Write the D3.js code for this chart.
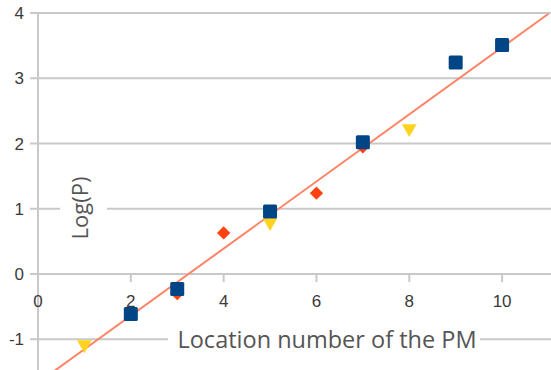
<!DOCTYPE html>
<html>
<head>
<meta charset="utf-8">
<script src="https://cdn.jsdelivr.net/npm/d3@7"></script>
<style>
  html, body { margin: 0; padding: 0; background: #fff; }
  svg { display: block; }
</style>
</head>
<body>
<svg id="chart" width="551" height="370"></svg>
<script>
// Location number of the PM vs Log(P), three measurement series
const squareX = [2, 3, 5, 7, 9, 10];
const squareY = [-0.61, -0.23, 0.96, 2.02, 3.24, 3.51];
const triangleX = [1, 3, 5, 8];
const triangleY = [-1.08, -0.2, 0.79, 2.23];
const diamondX = [3, 4, 6, 7];
const diamondY = [-0.3, 0.63, 1.24, 1.95];
// linear trend: Log(P) = slope * x + intercept
const trendSlope = 0.514;
const trendIntercept = -1.665;
const xTicks = [0, 2, 4, 6, 8, 10];
const yTicks = [-1, 0, 1, 2, 3, 4];

const svg = d3.select("#chart");
const x = d3.scaleLinear().domain([0, 11]).range([38, 548.5]);
const y = d3.scaleLinear().domain([-1.5, 4]).range([372, 13]);

const gridColor = "#c9c9c9";
const labelColor = "#3a3a3a";

// horizontal gridlines (y = 0 acts as the x axis)
svg.append("g").selectAll("line").data(yTicks).join("line")
  .attr("x1", 30).attr("x2", 551)
  .attr("y1", d => y(d)).attr("y2", d => y(d))
  .attr("stroke", gridColor).attr("stroke-width", 2);

// vertical axis line
svg.append("line")
  .attr("x1", x(0)).attr("x2", x(0))
  .attr("y1", y(4)).attr("y2", 370)
  .attr("stroke", gridColor).attr("stroke-width", 2);

// tick marks hanging below the zero line
svg.append("g").selectAll("line").data(xTicks.filter(d => d > 0)).join("line")
  .attr("x1", d => x(d)).attr("x2", d => x(d))
  .attr("y1", y(0)).attr("y2", y(0) + 8)
  .attr("stroke", gridColor).attr("stroke-width", 2);

// y tick labels
svg.append("g").selectAll("text").data(yTicks).join("text")
  .attr("x", 24).attr("y", d => y(d))
  .attr("dy", "0.36em")
  .attr("text-anchor", "end")
  .attr("font-family", "Liberation Sans, Arial, sans-serif")
  .attr("font-size", 17)
  .attr("fill", labelColor)
  .text(d => d);

// x tick labels
svg.append("g").selectAll("text").data(xTicks).join("text")
  .attr("x", d => x(d)).attr("y", y(0) + 27)
  .attr("dy", "0.36em")
  .attr("text-anchor", "middle")
  .attr("font-family", "Liberation Sans, Arial, sans-serif")
  .attr("font-size", 17)
  .attr("fill", labelColor)
  .text(d => d);

// axis titles on white backing that interrupts the gridlines
const titleFont = "'Open Sans', sans-serif";
const xTitle = svg.append("g");
xTitle.append("rect")
  .attr("x", 168).attr("y", y(-1) - 15).attr("width", 312).attr("height", 30)
  .attr("fill", "#fff");
xTitle.append("text")
  .attr("x", 327).attr("y", y(-1))
  .attr("dy", "0.35em")
  .attr("text-anchor", "middle")
  .attr("font-family", titleFont)
  .attr("font-size", 23.5)
  .attr("fill", "#555")
  .text("Location number of the PM");

const yTitle = svg.append("g");
yTitle.append("rect")
  .attr("x", 60).attr("y", 168).attr("width", 47).attr("height", 80)
  .attr("fill", "#fff");
yTitle.append("text")
  .attr("transform", "translate(80,208) rotate(-90)")
  .attr("dy", "0.35em")
  .attr("text-anchor", "middle")
  .attr("font-family", titleFont)
  .attr("font-size", 22)
  .attr("fill", "#555")
  .text("Log(P)");

// trend line across the full x domain
const [x0, x1] = [0, 11];
svg.append("line")
  .attr("x1", x(x0)).attr("y1", y(trendSlope * x0 + trendIntercept))
  .attr("x2", x(x1)).attr("y2", y(trendSlope * x1 + trendIntercept))
  .attr("stroke", "#ff8466").attr("stroke-width", 2);

// orange diamonds
const dia = d3.symbol().type(d3.symbolSquare).size(88);
svg.append("g").selectAll("path").data(diamondX.map((v, i) => [v, diamondY[i]])).join("path")
  .attr("d", dia)
  .attr("transform", d => `translate(${x(d[0])},${y(d[1])}) rotate(45)`)
  .attr("fill", "#ff420e");

// yellow down triangles
const tri = d3.symbol().type(d3.symbolTriangle).size(95);
svg.append("g").selectAll("path").data(triangleX.map((v, i) => [v, triangleY[i]])).join("path")
  .attr("d", tri)
  .attr("transform", d => `translate(${x(d[0])},${y(d[1])}) rotate(180)`)
  .attr("fill", "#ffd320");

// blue squares
const sq = 14;
svg.append("g").selectAll("rect").data(squareX.map((v, i) => [v, squareY[i]])).join("rect")
  .attr("x", d => x(d[0]) - sq / 2).attr("y", d => y(d[1]) - sq / 2)
  .attr("width", sq).attr("height", sq).attr("rx", 1.5)
  .attr("fill", "#004586");
</script>
</body>
</html>
